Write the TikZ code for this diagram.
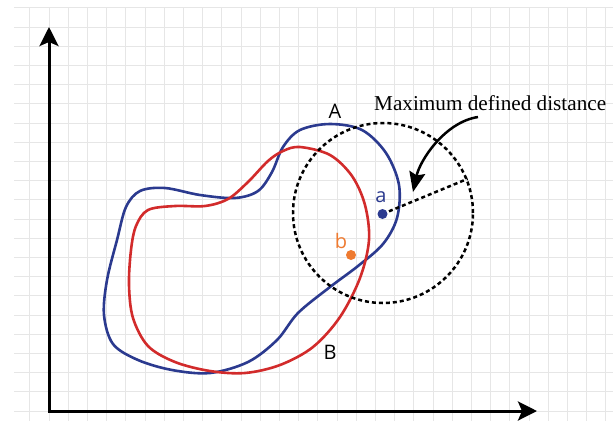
\documentclass[tikz,border=0pt]{standalone}
\usepackage{fontspec}
\setmainfont{Liberation Serif}
\newfontfamily\lblfont{Open Sans}
\usetikzlibrary{arrows.meta}
\definecolor{gridc}{HTML}{E6E6E6}
\definecolor{blobA}{HTML}{2B3A8F}
\definecolor{blobB}{HTML}{D22B2B}
\definecolor{ptb}{HTML}{EE7A30}
\begin{document}
\begin{tikzpicture}[x=1pt,y=-1pt,
  gridline/.style={draw=gridc,line width=0.8pt},
  axis/.style={line width=3pt,line join=miter,{Stealth[length=19pt,width=19pt,inset=4pt]}-{Stealth[length=19pt,width=19pt,inset=4pt]}},
  blobline/.style={line width=2.6pt,line join=round},
  lbl/.style={font=\lblfont\fontsize{20}{24}\selectfont,inner sep=0pt},
  rangecirc/.style={draw,circle,line width=2.5pt,dash pattern=on 4pt off 3pt,minimum size=180pt,inner sep=0pt},
  dashline/.style={line width=2.5pt,dash pattern=on 4pt off 3pt},
  bendarrow/.style={line width=2.5pt,-{Stealth[length=20pt,width=16pt,inset=3pt]}},
  dotA/.style={fill=blobA},
  dotB/.style={fill=ptb}]
\useasboundingbox (0,0) rectangle (613,421);
\fill[white] (0,0) rectangle (613,421);
% grid
\foreach \i in {0,...,30} \draw[gridline] ({29.8+19.2*\i},8) -- ({29.8+19.2*\i},421);
\foreach \j in {0,...,21} \draw[gridline] (14,{411-19.2*\j}) -- (613,{411-19.2*\j});
% axes
\coordinate (O) at (49,411);
\coordinate (ytip) at (49,27);
\coordinate (xtip) at (537,411);
\draw[axis] (ytip) -- (O) -- (xtip);
% blob A (blue)
\draw[blobline,blobA] plot[smooth cycle,tension=0.55] coordinates {
 (330,124) (362,130) (386,153) (399,185) (397,218) (383,244) (358,266) (330,287)
 (298,313) (277,340) (248,362) (210,373) (172,370) (138,360) (113,344) (104,315)
 (107,280) (117,240) (126,207) (140,191) (165,188) (200,195) (235,198) (258,191)
 (272,172) (283,147) (300,130)};
% blob B (red)
\draw[blobline,blobB] plot[smooth cycle,tension=0.55] coordinates {
 (300,147) (330,155) (352,176) (365,205) (369,240) (360,278) (340,317) (313,347)
 (280,365) (245,373) (210,371) (175,362) (148,346) (133,318) (129,285) (131,250)
 (136,226) (148,210) (175,206) (205,206) (228,199) (248,182) (268,161) (283,151)};
% range circle
\node[rangecirc] (range) at (383,213) {};
\coordinate (a) at (382.5,214);
\coordinate (b) at (351,255);
\draw[dashline] (a) -- (range.22);
\fill[dotA] (a) circle[radius=5pt];
\fill[dotB] (b) circle[radius=5pt];
% labels
\node[lbl] (labA) at (335,111) {A};
\node[lbl] (labB) at (330,352.5) {B};
\node[lbl,text=blobA] (laba) at (381,197.5) {a};
\node[lbl,text=ptb] (labb) at (341,241) {b};
\node[anchor=base west,inner sep=0pt,font=\fontsize{21.2}{25}\selectfont] (title) at (374,110.7) {Maximum defined distance};
% curved arrow
\coordinate (arrS) at (478,117);
\coordinate (arrE) at (413,192);
\draw[bendarrow] (arrS) .. controls (445,122) and (420,160) .. (arrE);
\end{tikzpicture}
\end{document}
